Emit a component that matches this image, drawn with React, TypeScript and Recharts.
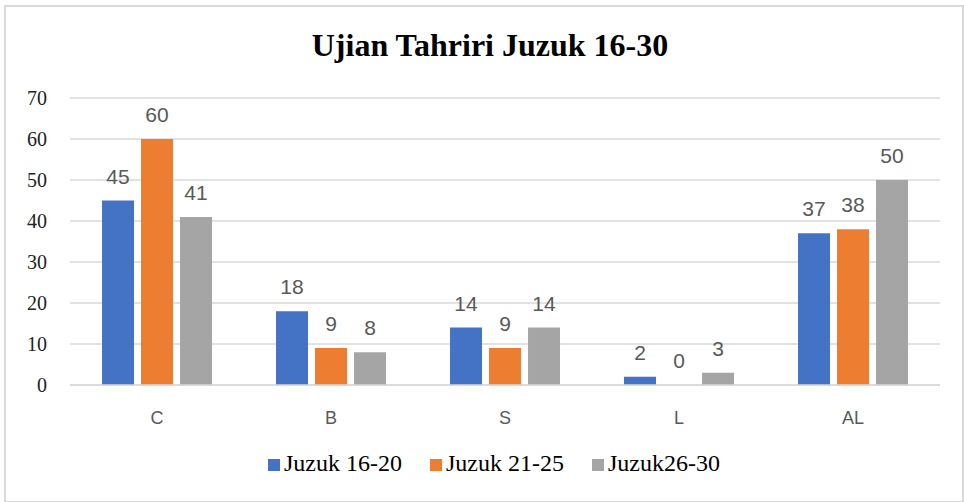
import { BarChart, Bar, XAxis, YAxis, CartesianGrid, Legend, LabelList } from 'recharts'

const categories = ['C', 'B', 'S', 'L', 'AL']
const juzuk1620 = [45, 18, 14, 2, 37]
const juzuk2125 = [60, 9, 9, 0, 38]
const juzuk2630 = [41, 8, 14, 3, 50]
const yTicks = [0, 10, 20, 30, 40, 50, 60, 70]

const chartData = categories.map((name, i) => ({
  name,
  a: juzuk1620[i],
  b: juzuk2125[i],
  c: juzuk2630[i],
}))

const labelStyle = { fill: '#595959', fontSize: 21, fontFamily: '"Liberation Sans", Arial, sans-serif' }

// keep zero-value bars in the layout so their "0" label still shows
const keepZero = (value: number) => (value === 0 ? 0.01 : 0)

export default function App() {
  return (
    <div style={{ position: 'absolute', left: 0, top: 0, width: 964, height: 502, background: '#fff' }}>
      <div
        style={{
          position: 'absolute',
          left: 4,
          top: 5,
          width: 956,
          height: 494,
          border: '2px solid #d9d9d9',
        }}
      />
      <div
        style={{
          position: 'absolute',
          left: 8,
          top: 27,
          width: 964,
          textAlign: 'center',
          fontFamily: '"Liberation Serif", "Times New Roman", serif',
          fontWeight: 'bold',
          fontSize: 32,
          color: '#000',
        }}
      >
        Ujian Tahriri Juzuk 16-30
      </div>
      <BarChart
        width={964}
        height={502}
        data={chartData}
        margin={{ top: 98, right: 24, left: 0, bottom: 60 }}
        barCategoryGap="18.4%"
        barGap={7}
      >
        <CartesianGrid vertical={false} stroke="#d9d9d9" strokeWidth={1.5} />
        <XAxis
          dataKey="name"
          axisLine={{ stroke: '#d9d9d9', strokeWidth: 1.5 }}
          tickLine={false}
          tickMargin={20}
          tick={{ fill: '#595959', fontSize: 18, fontFamily: '"Liberation Sans", Arial, sans-serif' }}
        />
        <YAxis
          width={70}
          domain={[0, 70]}
          ticks={yTicks}
          axisLine={false}
          tickLine={false}
          tickMargin={17}
          tick={{ fill: '#222', fontSize: 20, fontFamily: '"Liberation Serif", "Times New Roman", serif' }}
        />
        <Legend
          verticalAlign="bottom"
          iconType="square"
          iconSize={12}
          wrapperStyle={{
            top: 450,
            left: 38,
            fontFamily: '"Liberation Serif", "Times New Roman", serif',
            fontSize: 24,
          }}
          formatter={(value) => <span style={{ color: '#000', marginRight: 18 }}>{value}</span>}
        />
        <Bar dataKey="a" name="Juzuk 16-20" fill="#4472C4" isAnimationActive={false} minPointSize={keepZero}>
          <LabelList dataKey="a" position="top" offset={17} style={labelStyle} />
        </Bar>
        <Bar dataKey="b" name="Juzuk 21-25" fill="#ED7D31" isAnimationActive={false} minPointSize={keepZero}>
          <LabelList dataKey="b" position="top" offset={17} style={labelStyle} />
        </Bar>
        <Bar dataKey="c" name="Juzuk26-30" fill="#A5A5A5" isAnimationActive={false} minPointSize={keepZero}>
          <LabelList dataKey="c" position="top" offset={17} style={labelStyle} />
        </Bar>
      </BarChart>
    </div>
  )
}
